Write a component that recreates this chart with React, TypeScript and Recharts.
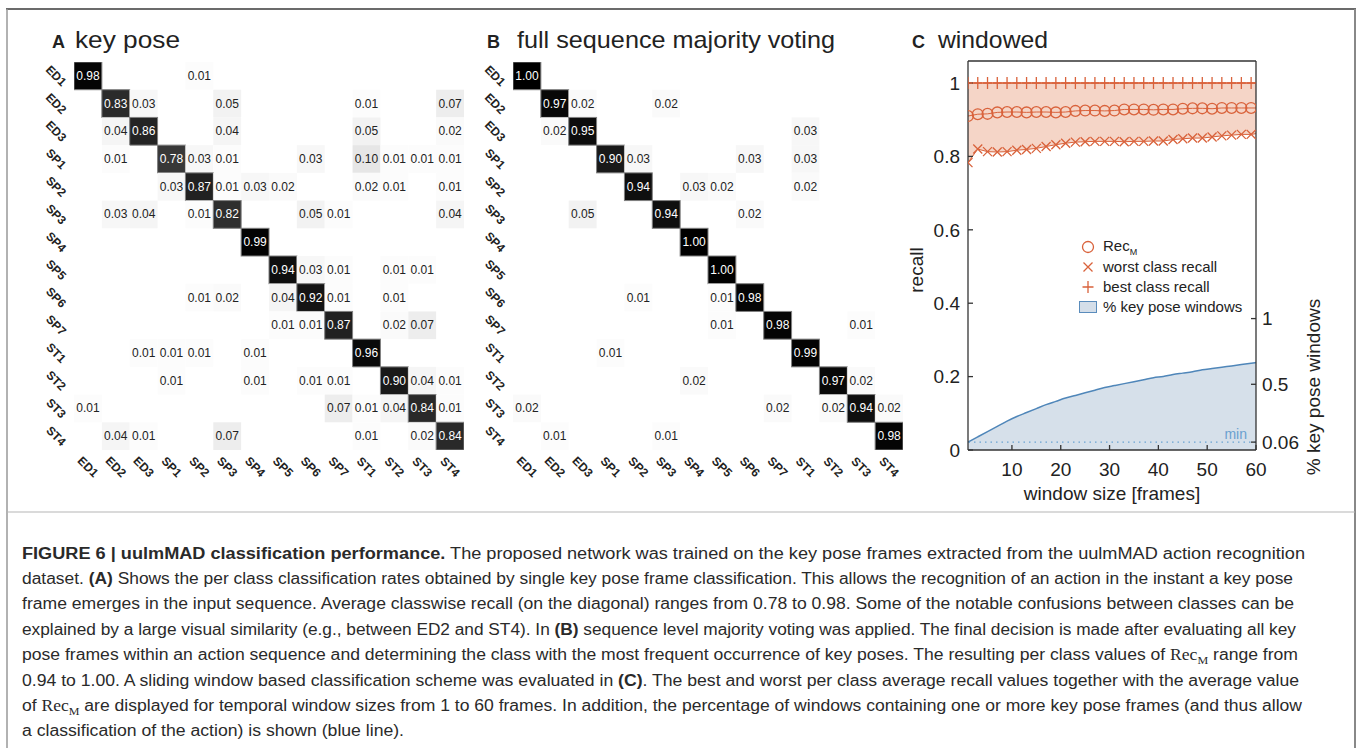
import React from "react";
import {
  ScatterChart,
  Scatter,
  ComposedChart,
  Area,
  Line,
  XAxis,
  YAxis,
  ReferenceLine,
  Legend,
} from "recharts";

const FONT = '"Liberation Sans", Arial, Helvetica, sans-serif';
const ORANGE = "#d9623b";
const BLUE = "#4f86b9";
const TEXT = "#222";

// ---- panels A + B: confusion matrices (rows = true class, cols = predicted)
const classes = ["ED1", "ED2", "ED3", "SP1", "SP2", "SP3", "SP4", "SP5", "SP6", "SP7", "ST1", "ST2", "ST3", "ST4"];

const keyPoseRows = [
  [0.98, 0, 0, 0, 0.01, 0, 0, 0, 0, 0, 0, 0, 0, 0],
  [0, 0.83, 0.03, 0, 0, 0.05, 0, 0, 0, 0, 0.01, 0, 0, 0.07],
  [0, 0.04, 0.86, 0, 0, 0.04, 0, 0, 0, 0, 0.05, 0, 0, 0.02],
  [0, 0.01, 0, 0.78, 0.03, 0.01, 0, 0, 0.03, 0, 0.1, 0.01, 0.01, 0.01],
  [0, 0, 0, 0.03, 0.87, 0.01, 0.03, 0.02, 0, 0, 0.02, 0.01, 0, 0.01],
  [0, 0.03, 0.04, 0, 0.01, 0.82, 0, 0, 0.05, 0.01, 0, 0, 0, 0.04],
  [0, 0, 0, 0, 0, 0, 0.99, 0, 0, 0, 0, 0, 0, 0],
  [0, 0, 0, 0, 0, 0, 0, 0.94, 0.03, 0.01, 0, 0.01, 0.01, 0],
  [0, 0, 0, 0, 0.01, 0.02, 0, 0.04, 0.92, 0.01, 0, 0.01, 0, 0],
  [0, 0, 0, 0, 0, 0, 0, 0.01, 0.01, 0.87, 0, 0.02, 0.07, 0],
  [0, 0, 0.01, 0.01, 0.01, 0, 0.01, 0, 0, 0, 0.96, 0, 0, 0],
  [0, 0, 0, 0.01, 0, 0, 0.01, 0, 0.01, 0.01, 0, 0.9, 0.04, 0.01],
  [0.01, 0, 0, 0, 0, 0, 0, 0, 0, 0.07, 0.01, 0.04, 0.84, 0.01],
  [0, 0.04, 0.01, 0, 0, 0.07, 0, 0, 0, 0, 0.01, 0, 0.02, 0.84],
];

const fullSequenceRows = [
  [1.0, 0, 0, 0, 0, 0, 0, 0, 0, 0, 0, 0, 0, 0],
  [0, 0.97, 0.02, 0, 0, 0.02, 0, 0, 0, 0, 0, 0, 0, 0],
  [0, 0.02, 0.95, 0, 0, 0, 0, 0, 0, 0, 0.03, 0, 0, 0],
  [0, 0, 0, 0.9, 0.03, 0, 0, 0, 0.03, 0, 0.03, 0, 0, 0],
  [0, 0, 0, 0, 0.94, 0, 0.03, 0.02, 0, 0, 0.02, 0, 0, 0],
  [0, 0, 0.05, 0, 0, 0.94, 0, 0, 0.02, 0, 0, 0, 0, 0],
  [0, 0, 0, 0, 0, 0, 1.0, 0, 0, 0, 0, 0, 0, 0],
  [0, 0, 0, 0, 0, 0, 0, 1.0, 0, 0, 0, 0, 0, 0],
  [0, 0, 0, 0, 0.01, 0, 0, 0.01, 0.98, 0, 0, 0, 0, 0],
  [0, 0, 0, 0, 0, 0, 0, 0.01, 0, 0.98, 0, 0, 0.01, 0],
  [0, 0, 0, 0.01, 0, 0, 0, 0, 0, 0, 0.99, 0, 0, 0],
  [0, 0, 0, 0, 0, 0, 0.02, 0, 0, 0, 0, 0.97, 0.02, 0],
  [0.02, 0, 0, 0, 0, 0, 0, 0, 0, 0.02, 0, 0.02, 0.94, 0.02],
  [0, 0.01, 0, 0, 0, 0.01, 0, 0, 0, 0, 0, 0, 0, 0.98],
];

// ---- panel C: windowed classification
const windowSizes = [1, 3, 5, 7, 9, 11, 13, 15, 17, 19, 21, 23, 25, 27, 29, 31, 33, 35, 37, 39, 41, 43, 45, 47, 49, 51, 53, 55, 57, 59, 60];
const bestRecall = [1, 1, 1, 1, 1, 1, 1, 1, 1, 1, 1, 1, 1, 1, 1, 1, 1, 1, 1, 1, 1, 1, 1, 1, 1, 1, 1, 1, 1, 1, 1];
const meanRecall = [0.91, 0.915, 0.916, 0.92, 0.921, 0.921, 0.92, 0.921, 0.921, 0.92, 0.921, 0.924, 0.925, 0.925, 0.924, 0.925, 0.928, 0.928, 0.928, 0.927, 0.928, 0.928, 0.93, 0.931, 0.931, 0.93, 0.932, 0.932, 0.932, 0.932, 0.932];
const worstRecall = [0.783, 0.82, 0.813, 0.812, 0.813, 0.817, 0.819, 0.822, 0.827, 0.832, 0.836, 0.839, 0.84, 0.841, 0.841, 0.841, 0.84, 0.841, 0.841, 0.842, 0.842, 0.846, 0.848, 0.85, 0.85, 0.853, 0.856, 0.858, 0.86, 0.86, 0.862];
const keyPoseWindows = [0.06, 0.1, 0.14, 0.18, 0.22, 0.255, 0.285, 0.315, 0.345, 0.37, 0.395, 0.415, 0.435, 0.455, 0.475, 0.49, 0.505, 0.52, 0.535, 0.55, 0.56, 0.575, 0.585, 0.595, 0.61, 0.62, 0.63, 0.64, 0.65, 0.66, 0.665];

const recallTicks = [0, 0.2, 0.4, 0.6, 0.8, 1];
const windowTicks = [0.06, 0.5, 1];
const sizeTicks = [10, 20, 30, 40, 50, 60];
const minWindows = 0.06;

// ---------------------------------------------------------------------------
const MAT_W = 470;
const MAT_H = 490;
const MAT_MARGIN = { top: 62, right: 6, bottom: 10, left: 34 };
const CELL_W = (MAT_W - MAT_MARGIN.left - MAT_MARGIN.right - 40) / classes.length;
const CELL_H = (MAT_H - MAT_MARGIN.top - MAT_MARGIN.bottom - 30) / classes.length;

function renderCell(props: any) {
  const { cx, cy, payload } = props;
  const v = payload.v as number;
  const g = Math.round(255 * (1 - v));
  const dark = v > 0.5;
  return (
    <g>
      <rect
        x={cx - CELL_W / 2}
        y={cy - CELL_H / 2}
        width={CELL_W}
        height={CELL_H}
        fill={`rgb(${g},${g},${g})`}
        stroke={dark ? "#808080" : "none"}
        strokeWidth={dark ? 1 : 0}
      />
      <text
        x={cx}
        y={cy}
        textAnchor="middle"
        dominantBaseline="central"
        fontSize={12}
        fontFamily={FONT}
        fill={dark ? "#fff" : TEXT}
      >
        {v.toFixed(2)}
      </text>
    </g>
  );
}

const renderXTick = (p: any) => {
  const x = p.x;
  const y = p.y + 17;
  return (
    <text
      x={x}
      y={y}
      transform={`rotate(45, ${x}, ${y})`}
      textAnchor="middle"
      dominantBaseline="central"
      fontSize={12}
      fontWeight="bold"
      fontFamily={FONT}
      fill={TEXT}
    >
      {classes[p.payload.value]}
    </text>
  );
};

const renderYTick = (p: any) => {
  const x = p.x - 18;
  const y = p.y;
  return (
    <text
      x={x}
      y={y}
      transform={`rotate(45, ${x}, ${y})`}
      textAnchor="middle"
      dominantBaseline="central"
      fontSize={12}
      fontWeight="bold"
      fontFamily={FONT}
      fill={TEXT}
    >
      {classes[p.payload.value]}
    </text>
  );
};

function ConfusionMatrix({ rows }: { rows: number[][] }) {
  const cells: { col: number; row: number; v: number }[] = [];
  rows.forEach((r, i) =>
    r.forEach((v, j) => {
      if (v > 0) cells.push({ col: j, row: i, v });
    })
  );
  const idx = classes.map((_, i) => i);
  return (
    <ScatterChart width={MAT_W} height={MAT_H} margin={MAT_MARGIN}>
      <XAxis
        type="number"
        dataKey="col"
        domain={[-0.5, classes.length - 0.5]}
        allowDataOverflow
        ticks={idx}
        interval={0}
        height={30}
        tickSize={0}
        tickMargin={0}
        axisLine={false}
        tickLine={false}
        tick={renderXTick}
      />
      <YAxis
        type="number"
        dataKey="row"
        domain={[-0.5, classes.length - 0.5]}
        allowDataOverflow
        reversed
        ticks={idx}
        interval={0}
        width={40}
        tickSize={0}
        tickMargin={0}
        axisLine={false}
        tickLine={false}
        tick={renderYTick}
      />
      <Scatter data={cells} shape={renderCell} isAnimationActive={false} />
    </ScatterChart>
  );
}

// ---------------------------------------------------------------------------
const circleDot = (p: any) =>
  p.index < windowSizes.length - 1 ? (
    <circle key={p.index} cx={p.cx} cy={p.cy} r={5.4} fill="none" stroke={ORANGE} strokeWidth={1.3} />
  ) : (
    <g key={p.index} />
  );

const crossDot = (p: any) =>
  p.index < windowSizes.length - 1 ? (
    <path
      key={p.index}
      d={`M${p.cx - 4.5},${p.cy - 4.5}L${p.cx + 4.5},${p.cy + 4.5}M${p.cx - 4.5},${p.cy + 4.5}L${p.cx + 4.5},${p.cy - 4.5}`}
      stroke={ORANGE}
      strokeWidth={1.3}
      fill="none"
    />
  ) : (
    <g key={p.index} />
  );

const plusDot = (p: any) =>
  p.index < windowSizes.length - 1 ? (
    <path
      key={p.index}
      d={`M${p.cx},${p.cy - 6}L${p.cx},${p.cy + 6}M${p.cx - 4.5},${p.cy}L${p.cx + 4.5},${p.cy}`}
      stroke={ORANGE}
      strokeWidth={1.3}
      fill="none"
    />
  ) : (
    <g key={p.index} />
  );

const legendLabels = ["Rec", "worst class recall", "best class recall", "% key pose windows"];

const legendIcon = (i: number) => {
  if (i === 0) return <circle cx={9} cy={10} r={5.5} fill="none" stroke={ORANGE} strokeWidth={1.3} />;
  if (i === 1)
    return <path d="M4.5,5.5L13.5,14.5M4.5,14.5L13.5,5.5" stroke={ORANGE} strokeWidth={1.3} fill="none" />;
  if (i === 2) return <path d="M9,4L9,16M3.5,10L14.5,10" stroke={ORANGE} strokeWidth={1.3} fill="none" />;
  return <rect x={0.5} y={4.5} width={17} height={11} fill="#d4dee9" stroke="#5a8cbc" strokeWidth={1} />;
};

const renderLegend = () => (
  <div style={{ fontFamily: FONT, fontSize: 15, color: TEXT, lineHeight: "20px" }}>
    {legendLabels.map((lab, i) => (
      <div key={lab} style={{ display: "flex", alignItems: "center", height: 20, whiteSpace: "nowrap" }}>
        <svg width={18} height={20} style={{ display: "block" }}>
          {legendIcon(i)}
        </svg>
        <span style={{ marginLeft: 6 }}>
          {lab}
          {i === 0 && <span style={{ fontSize: 9, position: "relative", top: 4 }}>M</span>}
        </span>
      </div>
    ))}
  </div>
);

function WindowedChart() {
  const data = windowSizes.map((w, i) => ({
    w,
    best: bestRecall[i],
    mean: meanRecall[i],
    worst: worstRecall[i],
    band: [worstRecall[i], bestRecall[i]],
    kp: keyPoseWindows[i],
  }));
  const axisStyle = { stroke: "#333", strokeWidth: 1.3 };
  const tickStyle = { fontSize: 19, fill: TEXT, fontFamily: FONT };
  return (
    <ComposedChart width={440} height={520} data={data} margin={{ top: 61, right: 34, bottom: 20, left: 18 }}>
      <XAxis
        dataKey="w"
        type="number"
        domain={[1, 60]}
        allowDataOverflow
        ticks={sizeTicks}
        height={50}
        tickSize={-5}
        tickMargin={18}
        axisLine={axisStyle}
        tickLine={axisStyle}
        tick={tickStyle}
        label={{ value: "window size [frames]", position: "insideBottom", offset: 0, fontSize: 19, fill: TEXT, fontFamily: FONT }}
      />
      <YAxis
        yAxisId="left"
        type="number"
        domain={[0, 1.06]}
        allowDataOverflow
        ticks={recallTicks}
        tickFormatter={(v: number) => (v === 0 || v === 1 ? String(v) : v.toFixed(1))}
        width={50}
        tickSize={-5}
        tickMargin={13}
        axisLine={axisStyle}
        tickLine={axisStyle}
        tick={tickStyle}
        label={{
          content: () => (
            <text x={23} y={270} transform="rotate(-90, 23, 270)" textAnchor="middle" fontSize={19} fill={TEXT} fontFamily={FONT}>
              recall
            </text>
          ),
        }}
      />
      <YAxis
        yAxisId="right"
        orientation="right"
        type="number"
        domain={[0, 2.96]}
        allowDataOverflow
        ticks={windowTicks}
        width={50}
        tickSize={-5}
        tickMargin={11}
        axisLine={axisStyle}
        tickLine={axisStyle}
        tick={tickStyle}
        label={{
          content: () => (
            <text x={420} y={387} transform="rotate(-90, 420, 387)" textAnchor="middle" fontSize={19} fill={TEXT} fontFamily={FONT}>
              % key pose windows
            </text>
          ),
        }}
      />
      <Area yAxisId="left" dataKey="band" type="linear" fill="#f5d5c7" fillOpacity={1} stroke="none" isAnimationActive={false} />
      <Area
        yAxisId="right"
        dataKey="kp"
        type="monotone"
        fill="#d6e0ea"
        fillOpacity={1}
        stroke={BLUE}
        strokeWidth={1.5}
        isAnimationActive={false}
      />
      <ReferenceLine
        yAxisId="right"
        y={minWindows}
        stroke="#6aa2d2"
        strokeWidth={1.3}
        strokeDasharray="1.5 4"
        label={{
          content: (p: any) => {
            const vb = p.viewBox || { x: 68, y: 442, width: 288 };
            return (
              <text x={vb.x + vb.width - 9} y={vb.y - 3} textAnchor="end" fontSize={14} fill="#6a9fcf" fontFamily={FONT}>
                min
              </text>
            );
          },
        }}
      />
      <ReferenceLine yAxisId="left" y={1.06} stroke="#333" strokeWidth={1.3} />
      <Line yAxisId="left" dataKey="best" type="linear" stroke={ORANGE} strokeWidth={1.3} dot={plusDot} isAnimationActive={false} />
      <Line yAxisId="left" dataKey="mean" type="linear" stroke={ORANGE} strokeWidth={1} dot={circleDot} isAnimationActive={false} />
      <Line yAxisId="left" dataKey="worst" type="linear" stroke={ORANGE} strokeWidth={1} dot={crossDot} isAnimationActive={false} />
      <Legend
        content={renderLegend}
        layout="horizontal"
        verticalAlign="middle"
        align="center"
        wrapperStyle={{ left: 179, top: 237, width: 220, height: 80 }}
      />
    </ComposedChart>
  );
}

// ---------------------------------------------------------------------------
type Seg = { t: string; b?: boolean; rec?: boolean };

const captionLines: { segs: Seg[]; end: number }[] = [
  {
    segs: [
      { t: "FIGURE 6 | uulmMAD classification performance.", b: true },
      { t: " The proposed network was trained on the key pose frames extracted from the uulmMAD action recognition" },
    ],
    end: 1305,
  },
  {
    segs: [
      { t: "dataset. " },
      { t: "(A)", b: true },
      { t: " Shows the per class classification rates obtained by single key pose frame classification. This allows the recognition of an action in the instant a key pose" },
    ],
    end: 1293,
  },
  {
    segs: [{ t: "frame emerges in the input sequence. Average classwise recall (on the diagonal) ranges from 0.78 to 0.98. Some of the notable confusions between classes can be" }],
    end: 1294,
  },
  {
    segs: [
      { t: "explained by a large visual similarity (e.g., between ED2 and ST4). In " },
      { t: "(B)", b: true },
      { t: " sequence level majority voting was applied. The final decision is made after evaluating all key" },
    ],
    end: 1296,
  },
  {
    segs: [
      { t: "pose frames within an action sequence and determining the class with the most frequent occurrence of key poses. The resulting per class values of " },
      { t: "Rec", rec: true },
      { t: " range from" },
    ],
    end: 1298,
  },
  {
    segs: [
      { t: "0.94 to 1.00. A sliding window based classification scheme was evaluated in " },
      { t: "(C)", b: true },
      { t: ". The best and worst per class average recall values together with the average value" },
    ],
    end: 1299,
  },
  {
    segs: [
      { t: "of " },
      { t: "Rec", rec: true },
      { t: " are displayed for temporal window sizes from 1 to 60 frames. In addition, the percentage of windows containing one or more key pose frames (and thus allow" },
    ],
    end: 1302,
  },
  { segs: [{ t: "a classification of the action) is shown (blue line)." }], end: 404 },
];

function FrameAndCaption() {
  const titles = [
    { letter: "A", lx: 52, text: "key pose", tx: 75, tw: 105 },
    { letter: "B", lx: 487, text: "full sequence majority voting", tx: 517, tw: 318 },
    { letter: "C", lx: 912, text: "windowed", tx: 938, tw: 110 },
  ];
  return (
    <svg width={1360} height={748} style={{ position: "absolute", left: 0, top: 0 }}>
      <line x1={6} y1={9} x2={1356} y2={9} stroke="#3a3a3a" strokeWidth={1.3} />
      <line x1={7} y1={9} x2={7} y2={748} stroke="#999" strokeWidth={1.5} />
      <line x1={1355} y1={9} x2={1355} y2={748} stroke="#888" strokeWidth={2} />
      <line x1={7} y1={512} x2={1355} y2={512} stroke="#b5b5b5" strokeWidth={1} />
      {titles.map((t) => (
        <g key={t.letter} fill={TEXT} fontFamily={FONT}>
          <text x={t.lx} y={48} fontSize={18} fontWeight="bold">
            {t.letter}
          </text>
          <text x={t.tx} y={48} fontSize={24} textLength={t.tw} lengthAdjust="spacingAndGlyphs">
            {t.text}
          </text>
        </g>
      ))}
      {captionLines.map((line, li) => {
        let prevRec = false;
        const parts: React.ReactNode[] = [];
        line.segs.forEach((s, si) => {
          const dy = prevRec ? -4 : undefined;
          if (s.rec) {
            parts.push(
              <tspan key={si + "a"} fontFamily='"Liberation Serif", "Times New Roman", serif' dy={dy}>
                Rec
              </tspan>
            );
            parts.push(
              <tspan key={si + "b"} fontFamily='"Liberation Serif", "Times New Roman", serif' fontSize={11} dy={4}>
                M
              </tspan>
            );
            prevRec = true;
          } else {
            parts.push(
              <tspan key={si} fontWeight={s.b ? "bold" : "normal"} dy={dy}>
                {s.t}
              </tspan>
            );
            prevRec = false;
          }
        });
        return (
          <text
            key={li}
            x={22}
            y={558.5 + li * 25.4}
            fontSize={16}
            fontFamily={FONT}
            fill="#2a2a2a"
            textLength={line.end - 22}
            lengthAdjust="spacingAndGlyphs"
            style={{ whiteSpace: "pre" }}
          >
            {parts}
          </text>
        );
      })}
    </svg>
  );
}

export default function App() {
  return (
    <div
      style={{
        position: "absolute",
        left: 0,
        top: 0,
        width: 1360,
        height: 748,
        background: "#fff",
        overflow: "hidden",
        fontFamily: FONT,
      }}
    >
      <FrameAndCaption />
      <div style={{ position: "absolute", left: 0, top: 0 }}>
        <ConfusionMatrix rows={keyPoseRows} />
      </div>
      <div style={{ position: "absolute", left: 439, top: 0 }}>
        <ConfusionMatrix rows={fullSequenceRows} />
      </div>
      <div style={{ position: "absolute", left: 900, top: 0 }}>
        <WindowedChart />
      </div>
    </div>
  );
}
